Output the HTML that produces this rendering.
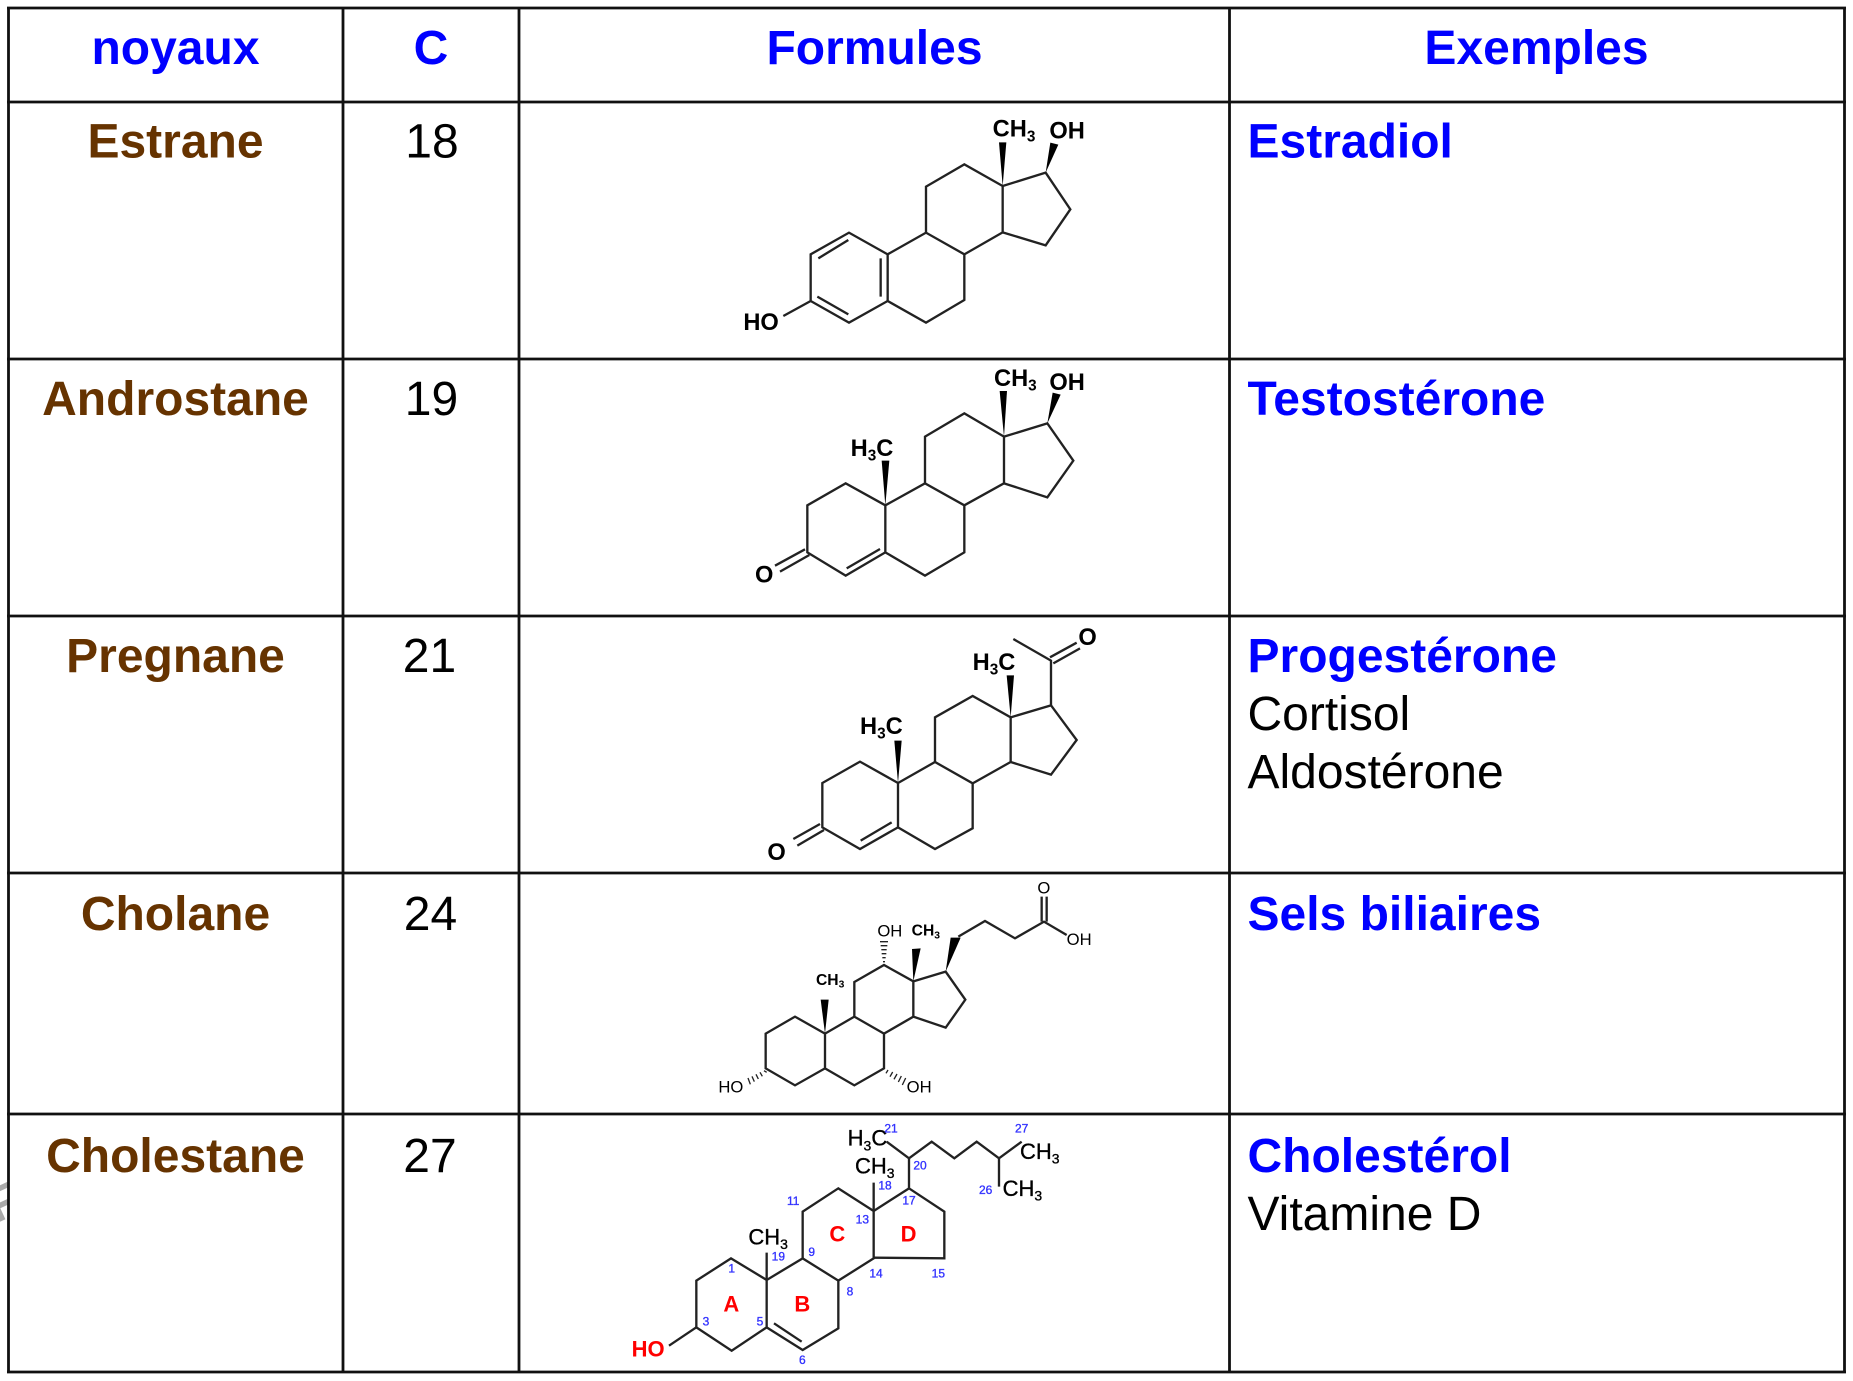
<!DOCTYPE html>
<html><head><meta charset="utf-8"><style>
html,body{margin:0;padding:0;background:#fff}
svg{display:block}
text{font-family:"Liberation Sans",sans-serif}
.h{font-size:48px;font-weight:bold;fill:#00f;text-anchor:middle}
.n{font-size:48px;font-weight:bold;fill:#663300;text-anchor:middle}
.c{font-size:48px;fill:#000;text-anchor:middle}
.b{font-size:48px;font-weight:bold;fill:#00f}
.t{font-size:48px;fill:#000}
.m polyline,.m path{fill:none;stroke:#222;stroke-width:7;stroke-linejoin:miter}
.m polygon{fill:#000;stroke:none}
.m text{font-size:71px;font-weight:bold;fill:#000}
.m tspan{font-size:46px}
.m tspan.big{font-size:1em}
.thin text{font-size:50px;font-weight:normal}
.thin text.bd{font-size:47px;font-weight:bold}
.thin tspan{font-size:31px}
.ch text{font-size:66px;font-weight:normal;stroke:#000;stroke-width:1}
.ch tspan{font-size:42px}
.ch text.num{font-size:36px;fill:#3333ff;stroke:#3333ff;stroke-width:1}
.ch text.red{font-weight:bold;fill:#f00;stroke:none}
</style></head><body>
<svg xmlns="http://www.w3.org/2000/svg" width="1853" height="1381" viewBox="0 0 1853 1381">
<rect width="1853" height="1381" fill="#fff"/>
<text x="-12" y="1220" transform="rotate(-25 0 1203)" font-size="48" font-weight="bold" fill="#aaa">F</text>
<rect x="8.5" y="8" width="1836" height="1364" fill="#fff"/>
<path d="M8.5 8V1372M343 8V1372M519 8V1372M1229.5 8V1372M1844.5 8V1372M7 8H1846M7 102H1846M7 359H1846M7 616H1846M7 873H1846M7 1114H1846M7 1372H1846" stroke="#111" stroke-width="2.8" fill="none"/>

<text class="h" x="175.5" y="64">noyaux</text>
<text class="h" x="431" y="64">C</text>
<text class="h" x="874.5" y="64">Formules</text>
<text class="h" x="1536.5" y="64">Exemples</text>

<text class="n" x="175.5" y="157.5">Estrane</text>
<text class="c" x="432" y="157.5">18</text>
<text class="b" x="1247.5" y="157.5">Estradiol</text>

<text class="n" x="175.5" y="415">Androstane</text>
<text class="c" x="431.5" y="415">19</text>
<text class="b" x="1247.5" y="415">Testostérone</text>

<text class="n" x="175.5" y="672">Pregnane</text>
<text class="c" x="429.5" y="672">21</text>
<text class="b" x="1247.5" y="672">Progestérone</text>
<text class="t" x="1247.5" y="730">Cortisol</text>
<text class="t" x="1247.5" y="788">Aldostérone</text>

<text class="n" x="175.5" y="930">Cholane</text>
<text class="c" x="430.5" y="930">24</text>
<text class="b" x="1247.5" y="930">Sels biliaires</text>

<text class="n" x="175.5" y="1172">Cholestane</text>
<text class="c" x="430" y="1172">27</text>
<text class="b" x="1247.5" y="1172">Cholestérol</text>
<text class="t" x="1247.5" y="1230">Vitamine D</text>

<!-- Estrane -->
<g class="m" transform="translate(700,100) scale(.33333)">
<polyline points="563,463 447,398 332,463 332,603 447,668 563,603 563,463 678,398 793,463 793,600 678,668 563,603"/>
<polyline points="678,398 678,260 793,193 908,258 908,397 793,463"/>
<polyline points="908,258 1037,218 1111,328 1037,436 908,397"/>
<path d="M332 603L250 648M355 475L445 420M542 475V590M352 590L445 643"/>
<polygon points="908,258 897,127 919,127"/>
<polygon points="1037,218 1051,128 1075,134"/>
<text x="878" y="110">CH<tspan dy="14">3</tspan></text>
<text x="1048" y="115">OH</text>
<text x="130" y="690">HO</text>
</g>

<!-- Androstane -->
<g class="m" transform="translate(700,360) scale(.33333)">
<polyline points="556,436 437,370 322,436 322,577 437,647 556,577 556,436 675,370 793,436 793,577 675,647 556,577"/>
<polyline points="675,370 675,230 793,160 912,230 912,370 793,436"/>
<polyline points="912,230 1042,190 1120,302 1042,412 912,370"/>
<path d="M225 617L315 568M240 635L328 585M440 625L540 567"/>
<polygon points="912,230 899,93 921,93"/>
<polygon points="1042,190 1058,98 1082,104"/>
<polygon points="556,436 545,302 568,302"/>
<text x="882" y="78">CH<tspan dy="14">3</tspan></text>
<text x="1048" y="90">OH</text>
<text x="452" y="288">H<tspan dy="14">3</tspan><tspan class="big" dy="-14">C</tspan></text>
<text x="165" y="667">O</text>
</g>

<!-- Pregnane -->
<g class="m" transform="translate(700,620) scale(.33333)">
<polyline points="594,489 480,425 367,489 367,622 480,687 594,622 594,489 705,426 818,490 818,625 705,687 594,622"/>
<polyline points="705,426 705,292 818,228 932,292 932,426 818,490"/>
<polyline points="932,292 1053,256 1130,360 1053,464 932,426"/>
<path d="M1053 256V122L940 57M1050 112L1130 68M1060 130L1140 85M482 662L575 607M280 657L360 612M292 677L372 630"/>
<polygon points="594,489 583,362 605,362"/>
<polygon points="932,292 920,166 942,166"/>
<text x="480" y="342">H<tspan dy="14">3</tspan><tspan class="big" dy="-14">C</tspan></text>
<text x="818" y="150">H<tspan dy="14">3</tspan><tspan class="big" dy="-14">C</tspan></text>
<text x="1135" y="75">O</text>
<text x="202" y="720">O</text>
</g>

<!-- Cholane -->
<g class="m thin" transform="translate(700,875) scale(.33333)">
<polyline points="375,476 285,425 197,476 197,580 285,631 375,580 375,476 463,425 552,476 552,580 463,631 375,580"/>
<polyline points="463,425 463,321 552,270 640,319 640,425 552,476"/>
<polyline points="640,319 737,290 796,374 737,458 640,425"/>
<polyline points="775,185 855,138 945,190 1032,140 1100,180"/>
<path d="M1025 140V65M1040 140V65"/>
<polygon points="375,476 362,374 386,374"/>
<polygon points="640,319 636,222 662,220"/>
<polygon points="737,290 752,188 782,188"/>
<path d="M540 200H564M542 212H562M544 224H560M545 236H559M547 248H557M549 260H555" style="stroke-width:4"/>
<path d="M192 587L200 592M180 592L187 604M168 598L175 612M156 604L163 620M144 609L151 628" style="stroke-width:4"/>
<path d="M564 585L558 595M578 591L570 605M591 597L582 613M604 603L595 621M617 609L607 630" style="stroke-width:4"/>
<text x="532" y="185">OH</text>
<text class="bd" x="635" y="182">CH<tspan dy="8">3</tspan></text>
<text class="bd" x="348" y="330">CH<tspan dy="8">3</tspan></text>
<text x="1012" y="55">O</text>
<text x="1100" y="210">OH</text>
<text x="55" y="652">HO</text>
<text x="620" y="652">OH</text>
</g>

<!-- Cholestane -->
<g class="m ch" transform="translate(620,1115) scale(.33333)">
<polyline points="440,495 333,430 229,497 229,637 335,707 440,637 440,495 548,430 655,497 655,640 548,705 440,637"/>
<polyline points="548,430 548,290 655,220 761,288 761,430 655,497"/>
<polyline points="761,288 867,220 973,290 973,430 761,428"/>
<path d="M440 495V413M761 288V203M867 220V130L800 80M867 130L935 80L1003 130L1070 80L1137 130L1205 80M1137 130V215M229 637L147 692M462 625L545 680"/>
<text x="683" y="92">H<tspan dy="14">3</tspan><tspan class="big" dy="-14">C</tspan></text>
<text x="705" y="175">CH<tspan dy="14">3</tspan></text>
<text x="385" y="388">CH<tspan dy="14">3</tspan></text>
<text x="1200" y="132">CH<tspan dy="14">3</tspan></text>
<text x="1148" y="243">CH<tspan dy="14">3</tspan></text>
<text class="red" x="35" y="725">HO</text>
<text class="red" x="310" y="590">A</text>
<text class="red" x="523" y="590">B</text>
<text class="red" x="628" y="380">C</text>
<text class="red" x="842" y="380">D</text>
<text class="num" x="793" y="52">21</text>
<text class="num" x="1185" y="52">27</text>
<text class="num" x="880" y="163">20</text>
<text class="num" x="775" y="224">18</text>
<text class="num" x="1077" y="237">26</text>
<text class="num" x="847" y="268">17</text>
<text class="num" x="501" y="270">11</text>
<text class="num" x="707" y="326">13</text>
<text class="num" x="455" y="437">19</text>
<text class="num" x="565" y="423">9</text>
<text class="num" x="325" y="472">1</text>
<text class="num" x="748" y="487">14</text>
<text class="num" x="935" y="488">15</text>
<text class="num" x="680" y="542">8</text>
<text class="num" x="248" y="632">3</text>
<text class="num" x="410" y="632">5</text>
<text class="num" x="537" y="747">6</text>
</g>
</svg>
</body></html>
